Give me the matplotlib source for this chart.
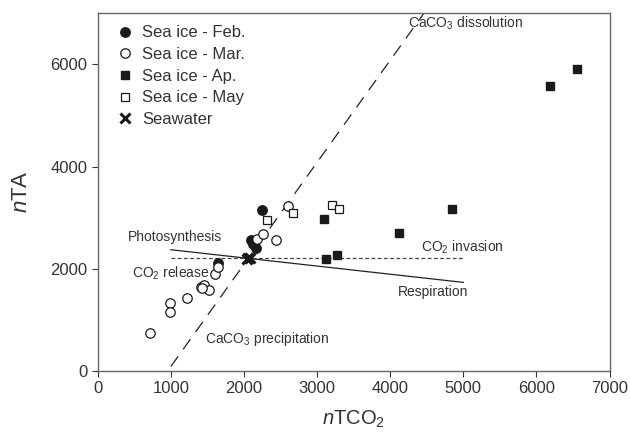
import numpy as np
import matplotlib
matplotlib.use("Agg")
import matplotlib.pyplot as plt

plt.rcParams["font.family"] = ["Liberation Sans", "DejaVu Sans"]
plt.rcParams["mathtext.fontset"] = "custom"
plt.rcParams["mathtext.rm"] = "Liberation Sans"
plt.rcParams["mathtext.it"] = "Liberation Sans:italic"

# --- data (nTCO2, nTA) ---
feb_tco2 = [2252, 2093, 2130, 2166, 1650]
feb_ta = [3139, 2553, 2480, 2410, 2100]

mar_tco2 = [714, 989, 989, 1226, 1409, 1454, 1527, 1430, 1605, 1650, 2175, 2266, 2439, 2608]
mar_ta = [730, 1316, 1152, 1414, 1641, 1674, 1576, 1610, 1889, 2031, 2586, 2670, 2553, 3217]

apr_tco2 = [3096, 3123, 3278, 4117, 4851, 6187, 6553]
apr_ta = [2969, 2195, 2273, 2695, 3172, 5580, 5906]

may_tco2 = [2320, 2667, 3201, 3306]
may_ta = [2957, 3086, 3250, 3158]

sw_tco2 = [2040, 2060, 2080]
sw_ta = [2190, 2210, 2200]

# reference process lines through seawater
sw_x, sw_y = 2060, 2200
calc_slope = 2.0        # CaCO3 precipitation / dissolution
bio_slope = -0.16       # photosynthesis / respiration

INK = "#222222"
TXT = "#333333"

fig = plt.figure(figsize=(6.3, 4.32), dpi=100)
ax = fig.add_axes([0.155, 0.142, 0.8125, 0.827])

# CaCO3 line
cx = np.array([1000, 4460])
ax.plot(cx, sw_y + calc_slope * (cx - sw_x), color=INK, lw=0.9, ls=(0, (10, 7)), zorder=1)
# photosynthesis / respiration
bx = np.array([1000, 5000])
ax.plot(bx, sw_y + bio_slope * (bx - sw_x), color=INK, lw=0.9, zorder=1)
# CO2 invasion / release
ax.plot(bx, [sw_y, sw_y], color="#444444", lw=0.9, ls=(0, (3, 2)), zorder=1)

ax.plot(feb_tco2, feb_ta, "o", ms=6.8, mfc="#1a1a1a", mec="#1a1a1a", label="Sea ice - Feb.", zorder=3)
ax.plot(mar_tco2, mar_ta, "o", ms=6.8, mfc="white", mec="#1a1a1a", mew=0.9, label="Sea ice - Mar.", zorder=3)
ax.plot(apr_tco2, apr_ta, "s", ms=6.3, mfc="#1a1a1a", mec="#1a1a1a", label="Sea ice - Ap.", zorder=3)
ax.plot(may_tco2, may_ta, "s", ms=6.3, mfc="white", mec="#1a1a1a", mew=0.9, label="Sea ice - May", zorder=3)
ax.plot(sw_tco2, sw_ta, "x", ms=6.5, mec="#1a1a1a", mew=2.2, label="Seawater", zorder=4)

fs = 10
ax.text(4245, 6810, r"CaCO$_3$ dissolution", fontsize=fs, color=TXT, va="center")
ax.text(415, 2611, "Photosynthesis", fontsize=fs, color=TXT, va="center")
ax.text(470, 1908, r"CO$_2$ release", fontsize=fs, color=TXT, va="center")
ax.text(1468, 619, r"CaCO$_3$ precipitation", fontsize=fs, color=TXT, va="center")
ax.text(4419, 2422, r"CO$_2$ invasion", fontsize=fs, color=TXT, va="center")
ax.text(4104, 1543, "Respiration", fontsize=fs, color=TXT, va="center")

ax.set_xlim(0, 7000)
ax.set_ylim(0, 7000)
ax.set_xticks(range(0, 7001, 1000))
ax.set_yticks(range(0, 6001, 2000))
ax.set_xlabel(r"$n$TCO$_2$", fontsize=14.5, color=TXT, labelpad=9)
ax.set_ylabel(r"$n$TA", fontsize=16, color=TXT, labelpad=13)
ax.tick_params(labelsize=12, colors=TXT, direction="out", length=4, width=0.8)
for sp in ax.spines.values():
    sp.set_color("#666666")
    sp.set_linewidth(1.0)

leg = ax.legend(loc="upper left", frameon=False, fontsize=12, handletextpad=0.5,
                labelspacing=0.4, borderaxespad=0.0, handlelength=1.0,
                bbox_to_anchor=(0.025, 0.985))
for t in leg.get_texts():
    t.set_color(TXT)

fig.savefig("out.png", dpi=100)
